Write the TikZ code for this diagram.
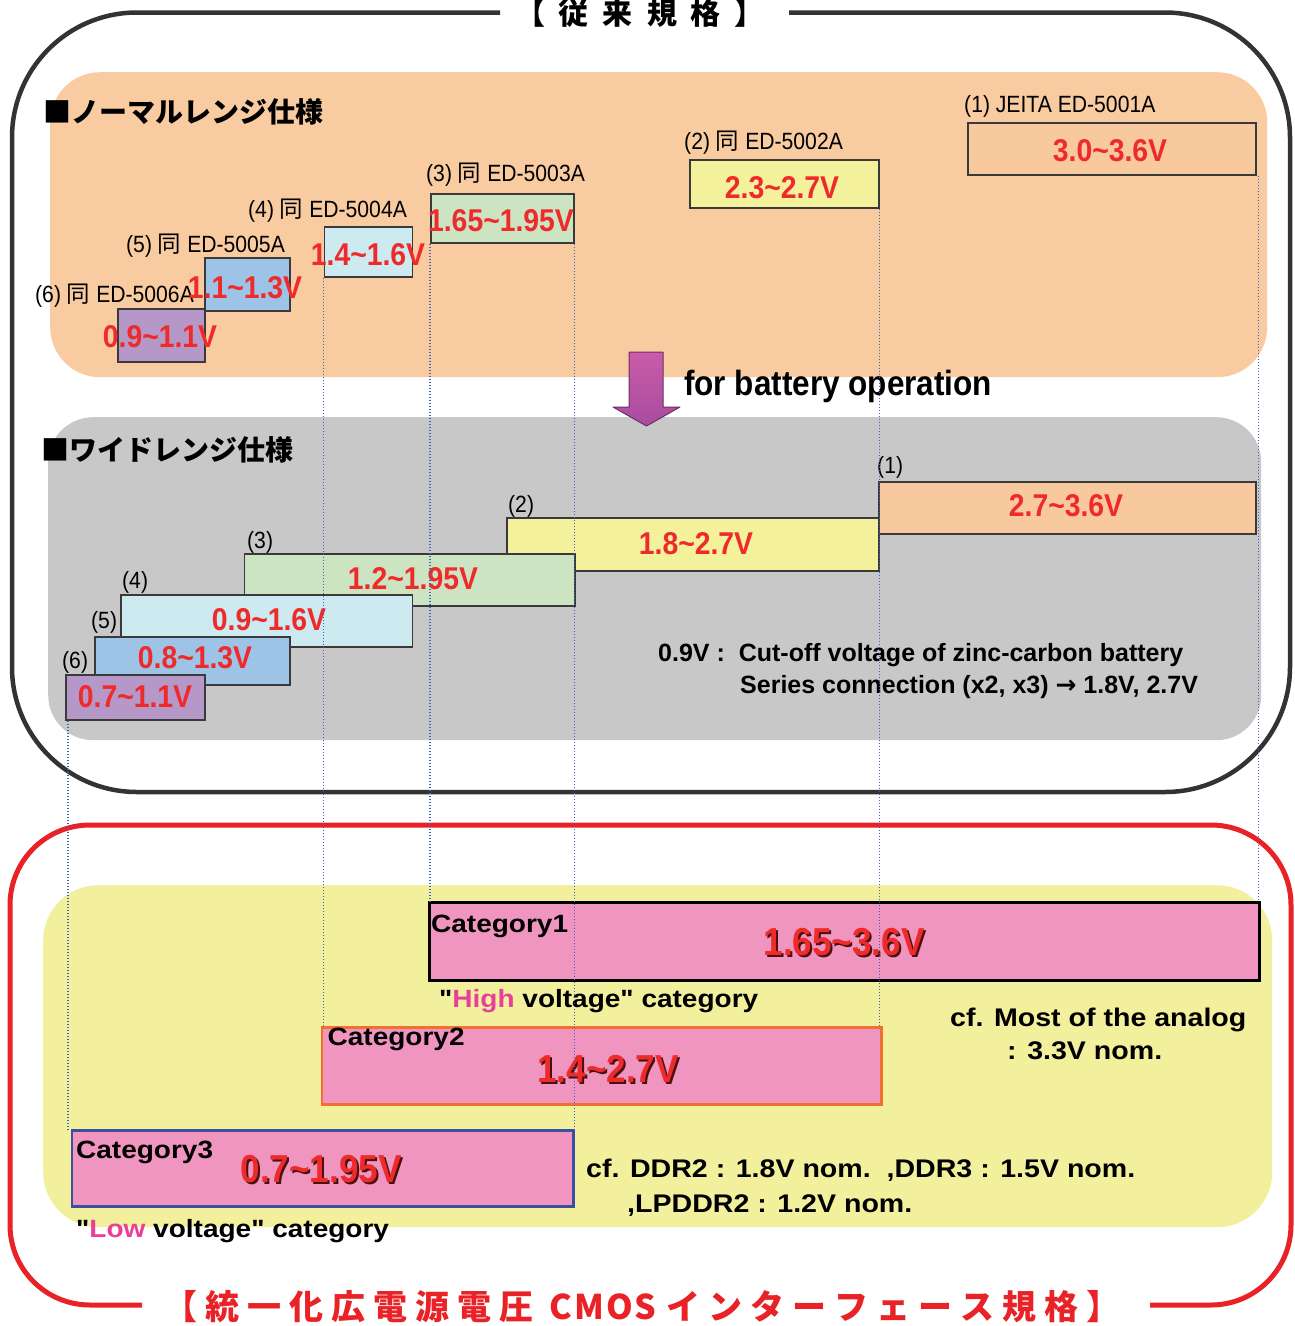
\documentclass[tikz,border=0pt]{standalone}
\usepackage{fontspec}
\setmainfont{Liberation Sans}
\newfontfamily\nar[FakeStretch=0.9]{Liberation Sans}
\newfontfamily\ext[FakeStretch=1.12]{Liberation Sans}
\newfontfamily\jp{Noto Sans CJK JP}
\newfontfamily\dvs{DejaVu Sans}
\usetikzlibrary{calc}
\definecolor{peach}{HTML}{F8CBA1}
\definecolor{peachbox}{HTML}{F8C99E}
\definecolor{ylw}{HTML}{F3F19C}
\definecolor{grn}{HTML}{CDE4C3}
\definecolor{cyn}{HTML}{CDEAF0}
\definecolor{blu}{HTML}{9DC3E6}
\definecolor{prp}{HTML}{B598C8}
\definecolor{gpanel}{HTML}{C8C8C8}
\definecolor{ypanel}{HTML}{F2F09C}
\definecolor{pnk}{HTML}{F095BF}
\definecolor{vred}{HTML}{EE2A2A}
\definecolor{fred}{HTML}{E82226}
\definecolor{dotblue}{HTML}{3F63BF}
\definecolor{frm}{HTML}{333333}
\definecolor{boxln}{HTML}{3A3A3A}
\definecolor{hil}{HTML}{E8409A}
\definecolor{cato}{HTML}{F07030}
\definecolor{catb}{HTML}{3A4FA0}
\definecolor{arone}{HTML}{C95CA9}
\definecolor{artwo}{HTML}{A84C9E}
\definecolor{ardk}{HTML}{6E2E68}
\definecolor{shd}{HTML}{4A1010}
\newcommand\fs[1]{\fontsize{#1}{#1}\selectfont}
\newcommand\tld{\textasciitilde}
\newcommand\tgap{\hspace{8pt}}
\newcommand\bgap{\hspace{14pt}}
\begin{document}
\begin{tikzpicture}[x=1pt,y=-1pt,
  panel/.style={inner sep=0, anchor=north west, rounded corners=#1},
  vbox/.style={draw=boxln, line width=1.5pt, inner sep=0, anchor=north west},
  lbl/.style={inner sep=0, anchor=base west, font=\nar\fs{23.5}},
  vt/.style={inner sep=0, anchor=base, text=vred, font=\nar\bfseries\fs{31.5}},
  bigv/.style={inner sep=0, anchor=base, text=vred, font=\nar\bfseries\fs{39}},
  bigsh/.style={inner sep=0, anchor=base, text=shd, font=\nar\bfseries\fs{39}},
  note/.style={inner sep=0, anchor=base west, font=\bfseries\fs{25}},
  cfnote/.style={inner sep=0, anchor=base west, font=\ext\bfseries\fs{25.5}},
  cat/.style={inner sep=0, anchor=base west, font=\ext\bfseries\fs{25}},
  hdr/.style={inner sep=0, anchor=west, font=\jp\bfseries\fs{28}},
  dotl/.style={draw=dotblue, line width=1.1pt, dash pattern=on 1pt off 2pt},
  frame/.style={draw=frm, line width=4.5pt},
  rframe/.style={draw=fred, line width=5pt}]
\useasboundingbox (0,0) rectangle (1295,1326);

% panels
\node[panel=50, fill=peach, minimum width=1217, minimum height=305] (pn) at (50,72) {};
\node[panel=45, fill=gpanel, minimum width=1213, minimum height=323] (pw) at (48,417) {};
\node[panel=55, fill=ypanel, minimum width=1229, minimum height=342] (py) at (43,885) {};

% frames
\draw[frame, rounded corners=125] (500,12.5) -- (12,12.5) -- (12,792) -- (1290,792) -- (1290,12.5) -- (789,12.5);
\draw[rframe, rounded corners=80] (142,1305) -- (10,1305) -- (10,825) -- (1291,825) -- (1291,1305) -- (1150,1305);
\node[inner sep=0, font=\jp\bfseries\fs{30}] (ttop) at (640,13) {【\bgap 従\bgap 来\bgap 規\bgap 格\bgap 】};
\node[inner sep=0, text=fred, font=\jp\bfseries\fs{34}] (tbot) at (642,1307) {【\tgap 統\tgap 一\tgap 化\tgap 広\tgap 電\tgap 源\tgap 電\tgap 圧\hspace{16pt}C\hspace{2pt}M\hspace{2pt}O\hspace{2pt}S\hspace{10pt}イ\tgap ン\tgap タ\tgap ー\tgap フ\tgap ェ\tgap ー\tgap ス\tgap 規\tgap 格\tgap 】};

% headers
\node[hdr] (hn) at (43,112) {■ノーマルレンジ仕様};
\node[hdr] (hw) at (41,450) {■ワイドレンジ仕様};

% normal range boxes
\node[vbox, fill=peachbox, minimum width=288, minimum height=52] (n1) at (967,122) {};
\node[vbox, fill=ylw, minimum width=189, minimum height=48] (n2) at (689,159) {};
\node[vbox, fill=grn, minimum width=143, minimum height=49] (n3) at (430,193) {};
\node[vbox, fill=cyn, minimum width=88, minimum height=50] (n4) at (323.5,226) {};
\node[vbox, fill=blu, minimum width=85, minimum height=53] (n5) at (204,257) {};
\node[vbox, fill=prp, minimum width=87, minimum height=53] (n6) at (117,308) {};

\node[lbl] (l1) at (964,112) {(1) JEITA ED-5001A};
\node[lbl] (l2) at (684,149) {(2) {\jp 同} ED-5002A};
\node[lbl] (l3) at (426,181) {(3) {\jp 同} ED-5003A};
\node[lbl] (l4) at (248,217) {(4) {\jp 同} ED-5004A};
\node[lbl] (l5) at (126,252) {(5) {\jp 同} ED-5005A};
\node[lbl] (l6) at (35,302) {(6) {\jp 同} ED-5006A};

\node[vt] (v1) at (1110,161.5) {3.0\tld3.6V};
\node[vt] (v2) at (782,198.5) {2.3\tld2.7V};
\node[vt] (v3) at (501,231.5) {1.65\tld1.95V};
\node[vt] (v4) at (368,265.5) {1.4\tld1.6V};
\node[vt] (v5) at (245,298.5) {1.1\tld1.3V};
\node[vt] (v6) at (160,347.5) {0.9\tld1.1V};

% arrow
\shade[top color=arone, bottom color=artwo] (629,352) -- (663,352) -- (663,407) -- (680,407) -- (646.5,426) -- (613,407) -- (629,407) -- cycle;
\draw[ardk, line width=1pt, line join=round] (629,352) -- (663,352) -- (663,407) -- (680,407) -- (646.5,426) -- (613,407) -- (629,407) -- cycle;
\node[inner sep=0, anchor=base west, font=\nar\bfseries\fs{35}] (bat) at (684,395) {for battery operation};

% wide range boxes
\node[vbox, fill=peachbox, minimum width=377, minimum height=52] (w1) at (878,481) {};
\node[vbox, fill=ylw, minimum width=372, minimum height=53] (w2) at (506,517) {};
\node[vbox, fill=grn, minimum width=330.5, minimum height=52] (w3) at (243.5,553) {};
\node[vbox, fill=cyn, minimum width=291.5, minimum height=52] (w4) at (120,594) {};
\node[vbox, fill=blu, minimum width=195, minimum height=48] (w5) at (94,636) {};
\node[vbox, fill=prp, minimum width=139, minimum height=45] (w6) at (65,674) {};

\node[lbl] (k1) at (877,473) {(1)};
\node[lbl] (k2) at (508,512) {(2)};
\node[lbl] (k3) at (247,548) {(3)};
\node[lbl] (k4) at (122,588) {(4)};
\node[lbl] (k5) at (91,628) {(5)};
\node[lbl] (k6) at (62,668) {(6)};

\node[vt] (u1) at (1066,516.5) {2.7\tld3.6V};
\node[vt] (u2) at (696,554.5) {1.8\tld2.7V};
\node[vt] (u3) at (413,589.5) {1.2\tld1.95V};
\node[vt] (u4) at (269,630.5) {0.9\tld1.6V};
\node[vt] (u5) at (195,668.5) {0.8\tld1.3V};
\node[vt] (u6) at (135,707.5) {0.7\tld1.1V};

\node[note] (z1) at (658,661) {0.9V :\ \ Cut-off voltage of zinc-carbon battery};
\node[note] (z2) at (740,693) {Series connection (x2, x3) {\dvs\bfseries →} 1.8V, 2.7V};

% categories
\node[draw=black, line width=3pt, fill=pnk, inner sep=0, anchor=north west, minimum width=830, minimum height=78] (c1) at (428,901) {};
\node[draw=cato, line width=2.5pt, fill=pnk, inner sep=0, anchor=north west, minimum width=559.5, minimum height=77] (c2) at (320.5,1026) {};
\node[draw=catb, line width=2.5pt, fill=pnk, inner sep=0, anchor=north west, minimum width=501.5, minimum height=76] (c3) at (70.5,1129) {};

\node[cat] (ct1) at (431,932) {Category1};
\node[cat] (ct2) at (327.5,1045) {Category2};
\node[cat] (ct3) at (76,1158) {Category3};

\node[bigsh] (s1) at (846,957) {1.65\tld3.6V};
\node[bigv] (b1) at (844,955) {1.65\tld3.6V};
\node[bigsh] (s2) at (610,1084) {1.4\tld2.7V};
\node[bigv] (b2) at (608,1082) {1.4\tld2.7V};
\node[bigsh] (s3) at (323,1184) {0.7\tld1.95V};
\node[bigv] (b3) at (321,1182) {0.7\tld1.95V};

\node[cat] (hv) at (439,1007) {"\textcolor{hil}{High} voltage" category};
\node[cat] (lv) at (76,1237) {"\textcolor{hil}{Low} voltage" category};

\node[cfnote] (cf1) at (950,1026) {cf. Most of the analog};
\node[cfnote] (cf2) at (1007,1059) {: 3.3V nom.};
\node[cfnote] (cf3) at (586,1177) {cf. DDR2 : 1.8V nom.\ \ ,DDR3 : 1.5V nom.};
\node[cfnote] (cf4) at (627,1212) {,LPDDR2 : 1.2V nom.};

% dotted guide lines
\draw[dotl] (n4.south west) -- (n4.south west |- c2.north);
\draw[dotl] (n3.south west) -- (n3.south west |- c1.north);
\draw[dotl] (n3.south east) -- (n3.south east |- c3.north);
\draw[dotl] (n2.south east) -- (n2.south east |- c2.north);
\draw[dotl] ([xshift=2pt]n1.south east) -- ([xshift=2pt]n1.south east |- c1.north);
\draw[dotl] ([xshift=3pt]w6.south west) -- ([xshift=3pt]w6.south west |- c3.north);
\end{tikzpicture}
\end{document}
